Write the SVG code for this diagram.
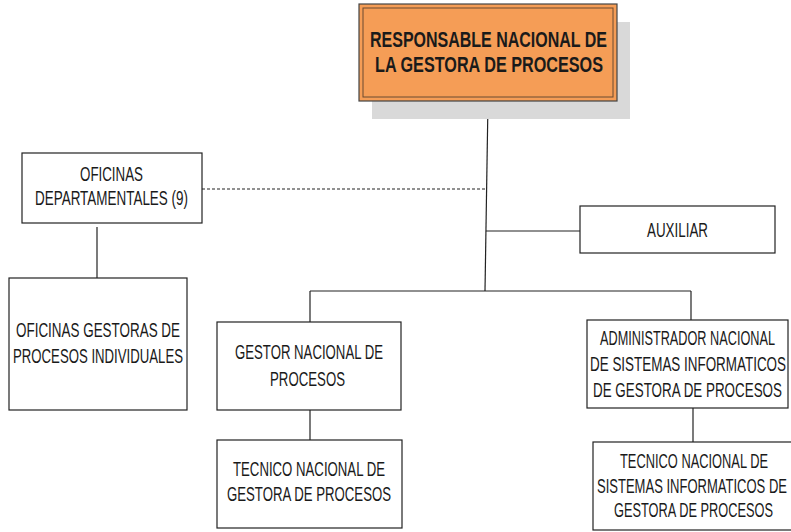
<svg xmlns="http://www.w3.org/2000/svg" width="791" height="532" viewBox="0 0 791 532">
<style>
.box{fill:#ffffff;stroke:#222222;stroke-width:1.2}
.t{font-family:"Liberation Sans",Arial,sans-serif;font-size:20px;fill:#1a1a1a;text-anchor:start}
.b{font-family:"Liberation Sans",Arial,sans-serif;font-size:22px;font-weight:bold;fill:#1a1a1a}
.ln{stroke:#222222;stroke-width:1.2;fill:none}
</style>
<rect x="0" y="0" width="791" height="532" fill="#ffffff"/>
<g id="connectors">
<line class="ln" x1="488" y1="101" x2="485" y2="291"/>
<line class="ln" x1="202" y1="189" x2="487" y2="189" stroke-dasharray="3,2"/>
<line class="ln" x1="486" y1="231" x2="580" y2="231"/>
<line class="ln" x1="310" y1="291" x2="691" y2="291"/>
<line class="ln" x1="310" y1="291" x2="310" y2="322"/>
<line class="ln" x1="691" y1="291" x2="691" y2="320"/>
<line class="ln" x1="97" y1="227" x2="97" y2="278"/>
<line class="ln" x1="310" y1="410" x2="310" y2="440"/>
<line class="ln" x1="693" y1="408" x2="693" y2="442"/>
</g>
<g id="responsable">
<rect x="372" y="22" width="258" height="97" fill="#d9d9d9"/>
<rect x="359" y="4" width="258" height="97" fill="#f59d56" stroke="#444444" stroke-width="1.2"/>
<rect x="363" y="8" width="250" height="89" fill="none" stroke="#6b4a30" stroke-width="1"/>
<text class="b" x="370" y="47" textLength="237" lengthAdjust="spacingAndGlyphs">RESPONSABLE NACIONAL DE</text>
<text class="b" x="375" y="72" textLength="228" lengthAdjust="spacingAndGlyphs">LA GESTORA DE PROCESOS</text>
</g>
<g id="oficinas-departamentales">
<rect class="box" x="22" y="153" width="180" height="70"/>
<text class="t" x="80" y="181" textLength="63" lengthAdjust="spacingAndGlyphs">OFICINAS</text>
<text class="t" x="35" y="205" textLength="153" lengthAdjust="spacingAndGlyphs">DEPARTAMENTALES (9)</text>
</g>
<g id="auxiliar">
<rect class="box" x="580" y="206" width="195" height="47"/>
<text class="t" x="647" y="237" textLength="61" lengthAdjust="spacingAndGlyphs">AUXILIAR</text>
</g>
<g id="oficinas-gestoras">
<rect class="box" x="9" y="278" width="178" height="132"/>
<text class="t" x="16" y="337" textLength="164" lengthAdjust="spacingAndGlyphs">OFICINAS GESTORAS DE</text>
<text class="t" x="13" y="363" textLength="170" lengthAdjust="spacingAndGlyphs">PROCESOS INDIVIDUALES</text>
</g>
<g id="gestor-nacional">
<rect class="box" x="217" y="322" width="184" height="88"/>
<text class="t" x="235" y="359" textLength="148" lengthAdjust="spacingAndGlyphs">GESTOR NACIONAL DE</text>
<text class="t" x="270" y="386" textLength="75" lengthAdjust="spacingAndGlyphs">PROCESOS</text>
</g>
<g id="tecnico-gestora">
<rect class="box" x="217" y="440" width="185" height="88"/>
<text class="t" x="233" y="476" textLength="152" lengthAdjust="spacingAndGlyphs">TECNICO NACIONAL DE</text>
<text class="t" x="227" y="501" textLength="164" lengthAdjust="spacingAndGlyphs">GESTORA DE PROCESOS</text>
</g>
<g id="administrador">
<rect class="box" x="587" y="320" width="201" height="88"/>
<text class="t" x="600" y="345" textLength="175" lengthAdjust="spacingAndGlyphs">ADMINISTRADOR NACIONAL</text>
<text class="t" x="590" y="371" textLength="196" lengthAdjust="spacingAndGlyphs">DE SISTEMAS INFORMATICOS</text>
<text class="t" x="593" y="397" textLength="189" lengthAdjust="spacingAndGlyphs">DE GESTORA DE PROCESOS</text>
</g>
<g id="tecnico-sistemas">
<rect class="box" x="593" y="442" width="200" height="88"/>
<text class="t" x="620" y="468" textLength="148" lengthAdjust="spacingAndGlyphs">TECNICO NACIONAL DE</text>
<text class="t" x="597" y="493" textLength="190" lengthAdjust="spacingAndGlyphs">SISTEMAS INFORMATICOS DE</text>
<text class="t" x="614" y="517" textLength="159" lengthAdjust="spacingAndGlyphs">GESTORA DE PROCESOS</text>
</g>
</svg>
